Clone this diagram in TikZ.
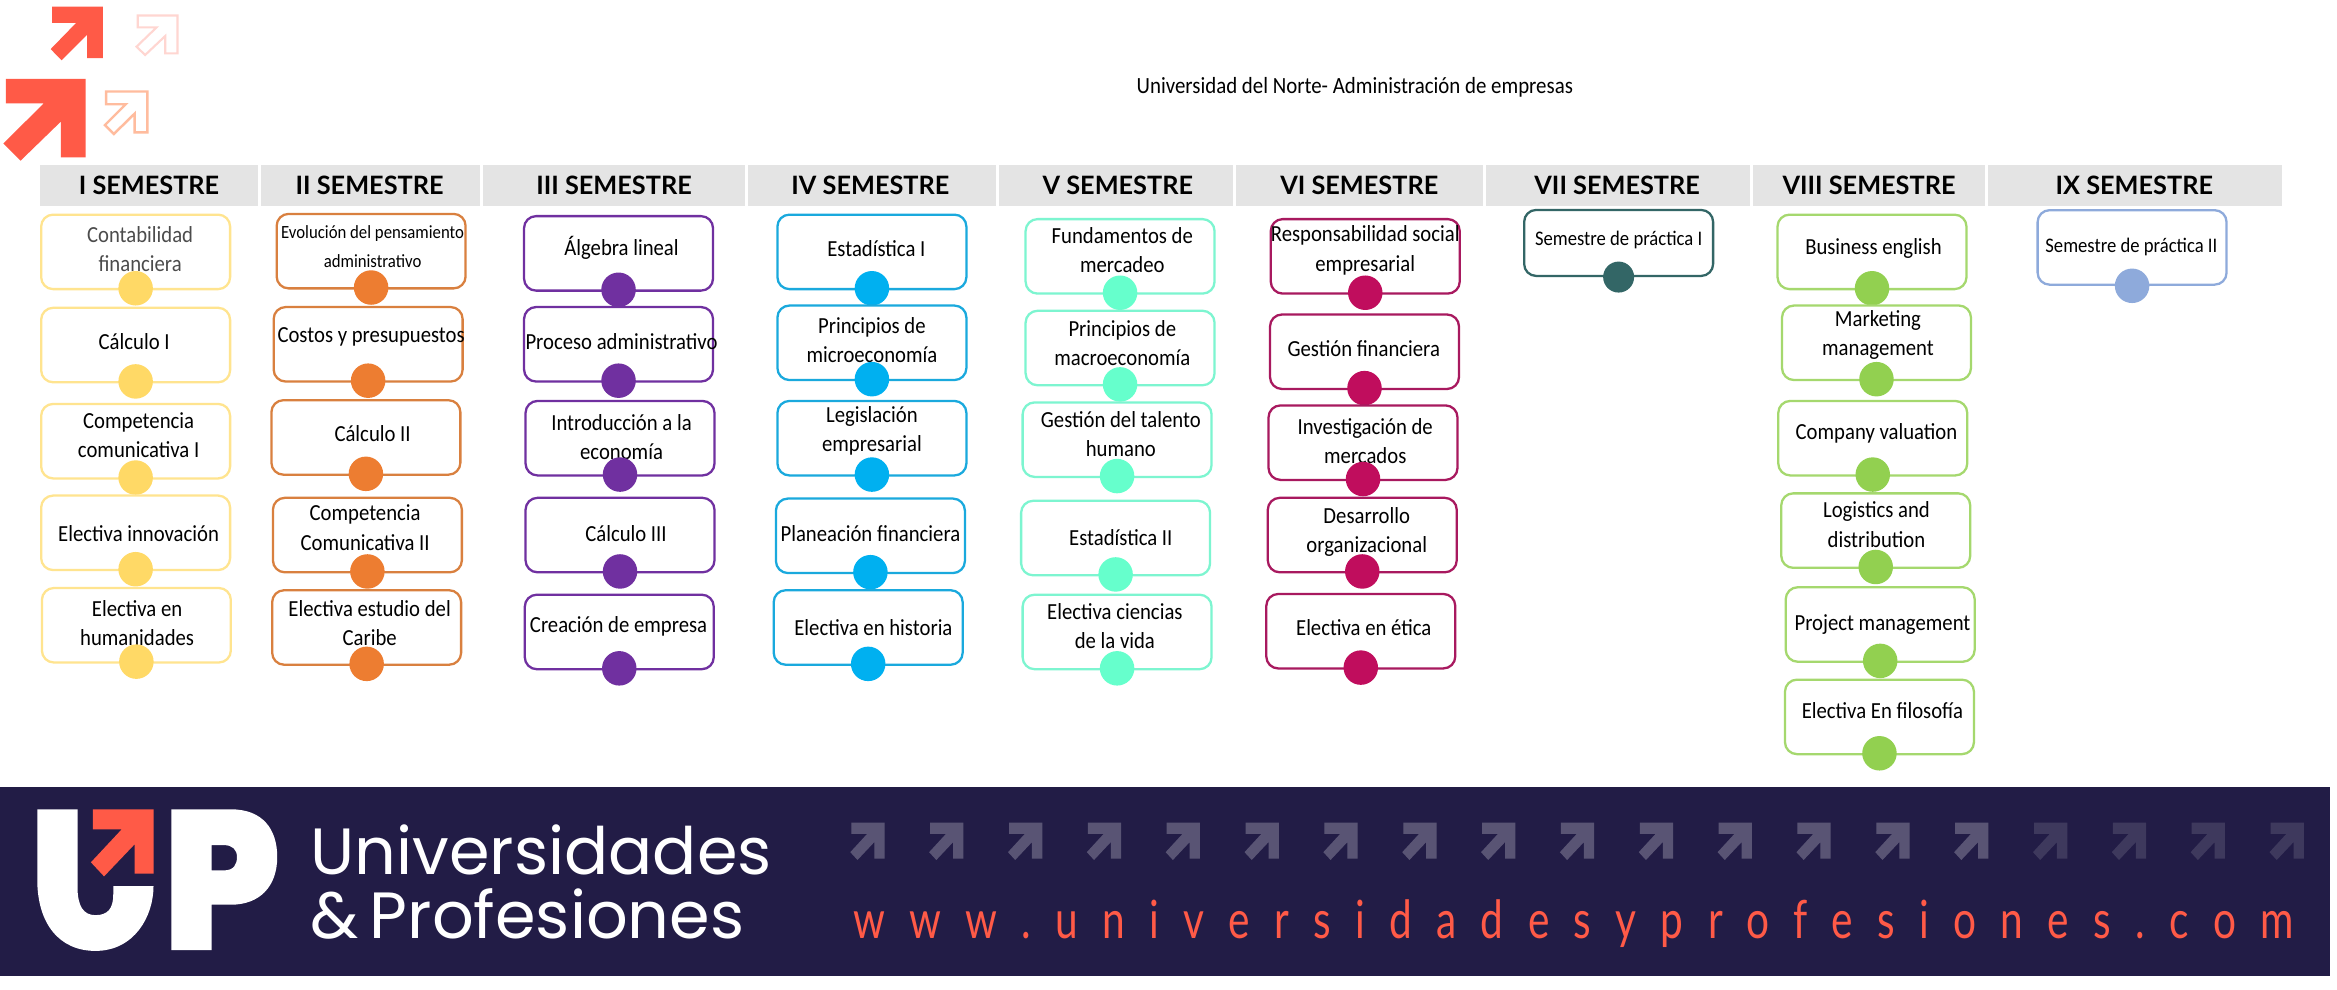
\documentclass[tikz,border=0pt]{standalone}
\usepackage{fontspec}
\usepackage{xcolor}
\setmainfont[FakeStretch=0.9]{Carlito}
\newfontfamily\headfont{Lato}
\newfontfamily\logofont{Poppins}
\newfontfamily\urlfont[LetterSpace=46.3,FakeStretch=0.77]{Lato}
\usetikzlibrary{positioning}
\definecolor{sema}{HTML}{FFD966}
\definecolor{semb}{HTML}{ED7D31}
\definecolor{semc}{HTML}{7030A0}
\definecolor{semd}{HTML}{00B0F0}
\definecolor{seme}{HTML}{66FFCC}
\definecolor{semf}{HTML}{C00D5D}
\definecolor{semg}{HTML}{336666}
\definecolor{semh}{HTML}{92D050}
\definecolor{semi}{HTML}{8EAADB}
\definecolor{bora}{HTML}{FFE48F}
\definecolor{borb}{HTML}{D9803F}
\definecolor{borc}{HTML}{7030A0}
\definecolor{bord}{HTML}{1AA9DD}
\definecolor{bore}{HTML}{7DF5D0}
\definecolor{borf}{HTML}{A8195F}
\definecolor{borh}{HTML}{A5D86E}
\definecolor{cinta}{HTML}{E4E4E4}
\definecolor{banda}{HTML}{221C46}
\definecolor{coral}{HTML}{FF5A47}
\newcommand{\chica}{\fontsize{5.9}{8}\selectfont}
\newcommand{\menor}{\fontsize{5.3}{7.6}\selectfont}
\newcommand{\gris}{\color{black!70}}
% one arrow of the logo: left, top, width, height, then draw options
\newcommand{\flecha}[5]{
  \begin{scope}[shift={(#1,#2)},x=#3*0.014904cm,y=-#4*0.014904cm]
    \path[#5] (0.03,0) -- (1,0) -- (1,0.96) -- (0.70,0.96) -- (0.70,0.52) -- (0.21,1) -- (0,0.79) -- (0.49,0.30) -- (0.03,0.30) -- cycle;
  \end{scope}
}
% one column of subjects
\newcommand{\columna}[3]{
  \foreach \nn/\cx/\cy/\tx/\ty/\txt in {#3}{
    \node[ramo,draw=bor#1] (#1box\nn) at (\cx,\cy) {};
    \node[ramotxt] (#1txt\nn) at (\tx,\ty) {\txt};
    \node[punto,fill=#2] (#1dot\nn) at ([yshift=0.2mm]#1box\nn.south) {};
  }
}
\tikzset{
  ramo/.style={rectangle,rounded corners=3.4pt,line width=0.65pt,fill=white,minimum width=1.89cm,minimum height=0.745cm,inner sep=0pt},
  ramotxt/.style={align=center,font=\fontsize{6.55}{8.3}\selectfont,inner sep=0pt},
  punto/.style={circle,minimum size=0.345cm,inner sep=0pt}
}
\begin{document}
\begin{tikzpicture}[x=0.014904cm,y=-0.014904cm]
\useasboundingbox (0,0) rectangle (1568,663.57);
\fill[white] (0,0) rectangle (1568,663.57);

% arrows top left
\flecha{34}{4.5}{35}{36}{fill=coral}
\flecha{91.6}{10.4}{27.5}{26.5}{draw=coral!25,line width=0.6pt}
\flecha{2.2}{53}{55.3}{54.8}{fill=coral}
\flecha{70.4}{61.4}{28.5}{28.5}{draw=orange!45!coral!45,line width=0.7pt}

\node[font=\fontsize{6.6}{8}\selectfont,inner sep=0pt] (titulo) at (909,58.5) {Universidad del Norte- Administración de empresas};

% semester strip
\foreach \nn/\lft/\rgt/\cen/\lbl in {1/27/173/100/I,2/175/322/248/II,3/324/500/412/III,4/502/668/584/IV,5/670/827/750/V,6/829/995/912/VI,7/997/1174/1085/VII,8/1176/1332/1254/VIII,9/1334/1531/1432/IX}{
  \fill[cinta] (\lft,111) rectangle (\rgt,138);
  \node[font=\headfont\bfseries\fontsize{7.2}{10}\selectfont,inner sep=0pt] (cab\nn) at (\cen,124.5) {\lbl{} SEMESTRE};
}

\columna{a}{sema}{
  1/91/169/94/167/{\gris Contabilidad\\\gris financiera},
  2/91/231.5/90/229.5/Cálculo I,
  3/91/296/93/292/{Competencia\\comunicativa I},
  4/91/357.5/93/358/Electiva innovación,
  5/91.5/419.5/92/418/{Electiva en\\humanidades}}
\columna{b}{semb}{
  1/249/168.5/250/165.5/{\menor Evolución del pensamiento\\\menor administrativo},
  2/247/231/249/226/Costos y presupuestos,
  3/245.5/293.5/250/291/Cálculo II,
  4/246.5/359/245/354/{Competencia\\Comunicativa II},
  5/246/421/248/418/{Electiva estudio del\\Caribe}}
\columna{c}{semc}{
  1/415/170/417/166/Álgebra lineal,
  2/415/231/417/229/Proceso administrativo,
  3/416/294/417/293/{Introducción a la\\economía},
  4/416/359/420/358/Cálculo III,
  5/415.5/424/415/420/Creación de empresa}
\columna{d}{semd}{
  1/585/169/588/167/Estadística I,
  2/585/230/585/228/{Principios de\\microeconomía},
  3/585/294/585/289/{Legislación\\empresarial},
  4/584/359.5/584/358/Planeación financiera,
  5/582.5/421/586/421/Electiva en historia}
\columna{e}{seme}{
  1/751.5/172/753/168/{Fundamentos de\\mercadeo},
  2/751.5/233.5/753/230/{Principios de\\macroeconomía},
  3/749.5/295/752/291/{Gestión del talento\\humano},
  4/748.5/361/752/361/Estadística II,
  5/749.5/424/748/420/{Electiva ciencias\\de la vida}}
\columna{f}{semf}{
  1/916/172/916/168/{Responsabilidad social\\empresarial},
  2/915.5/236/915/234/Gestión financiera,
  3/914.5/297/916/296/{Investigación de\\mercados},
  4/914/359/917/357/{Desarrollo\\organizacional},
  5/913/423.5/915/421/Electiva en ética}
\columna{h}{semh}{
  1/1256/169/1257/167/Business english,
  2/1259/230/1260/225/{Marketing\\management},
  3/1256.5/294/1259/291/Company valuation,
  4/1258.5/356/1259/352/{Logistics and\\distribution},
  5/1261.5/419/1263/419/Project management,
  6/1261/481/1263/477/Electiva En filosofía}

% practice semesters
\node[ramo,draw=semg,minimum height=0.66cm] (gbox1) at (1086,163) {};
\node[ramotxt,font=\chica] (gtxt1) at (1086,161) {Semestre de práctica I};
\node[punto,fill=semg,minimum size=0.31cm] (gdot1) at (gbox1.south) {};
\node[ramo,draw=semi] (ibox1) at (1430.5,166) {};
\node[ramotxt,font=\chica] (itxt1) at (1430,166) {Semestre de práctica II};
\node[punto,fill=semi] (idot1) at (ibox1.south) {};

% bottom band
\fill[banda] (0,528) rectangle (1563,654.7);
\foreach \i in {0,...,18}{
  \pgfmathsetmacro{\px}{570.5+52.9*\i}
  \ifnum\i<15
    \flecha{\px}{552}{23}{25}{fill=white,fill opacity=0.25}
  \else
    \flecha{\px}{552}{23}{25}{fill=white,fill opacity=0.13}
  \fi
}
\node[coral,anchor=base west,inner sep=0pt,font=\urlfont\fontsize{15}{16}\selectfont] (url) at (572,630) {www.universidadesyprofesiones.com};

% logo
\fill[white] (25,543) -- (25,590) .. controls (25,620) and (40,638) .. (64,638) .. controls (90,638) and (103,615) .. (103,594.5) -- (76,594.5) -- (76,600) .. controls (76,610) and (72,614) .. (64,614) .. controls (56,614) and (52,608) .. (52,595) -- (52,543) -- cycle;
\flecha{61}{543}{42}{45}{fill=coral}
\fill[white,even odd rule] (115,543) -- (155,543) .. controls (176,543) and (186,556) .. (186,575) .. controls (186,595) and (174,607) .. (155,607) -- (142,607) -- (142,637.5) -- (115,637.5) -- cycle (142,567) -- (142,584) -- (150,584) .. controls (157,584) and (159,580) .. (159,575) .. controls (159,570) and (156,567) .. (150,567) -- cycle;
\node[white,anchor=base west,inner sep=0pt,font=\logofont\fontsize{18.6}{20}\selectfont] (uni) at (208,587) {Universidades};
\node[white,anchor=base west,inner sep=0pt,font=\logofont\fontsize{18.6}{20}\selectfont] (pro) at (208,630) {\&\,Profesiones};
\end{tikzpicture}
\end{document}
